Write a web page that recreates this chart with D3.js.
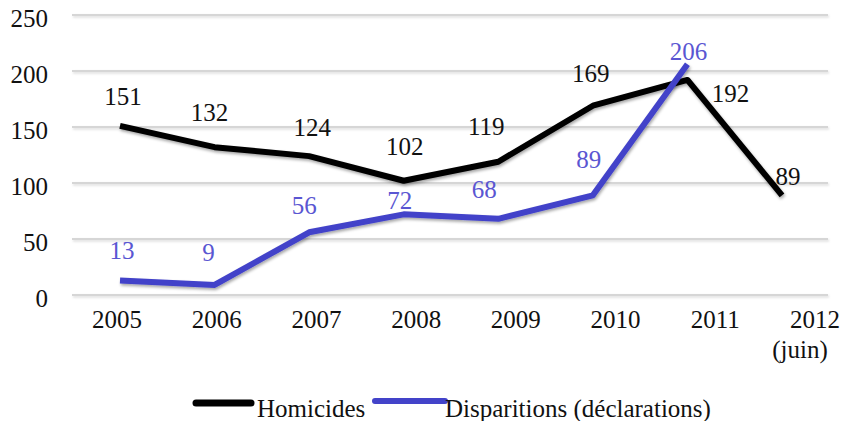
<!DOCTYPE html>
<html>
<head>
<meta charset="utf-8">
<script src="https://cdn.jsdelivr.net/npm/d3@7"></script>
<style>
  body { margin: 0; background: #fff; }
  svg { font-family: "Liberation Serif", "Times New Roman", serif; }
</style>
</head>
<body>
<svg id="chart" width="845" height="421"></svg>
<script>
const years = ["2005", "2006", "2007", "2008", "2009", "2010", "2011", "2012"];
const homicides = [151, 132, 124, 102, 119, 169, 192, 89];
const disparitions = [13, 9, 56, 72, 68, 89, 206];
const yTicks = [0, 50, 100, 150, 200, 250];
const seriesNames = ["Homicides", "Disparitions (déclarations)"];
const colors = ["#000000", "#4343c9"];
const labelColors = ["#111111", "#5a56d2"];

// label centre offsets (dx, dy) from the point
const homLabelOff = [[3, -29], [-5, -35], [3, -29], [1, -34], [-12, -35], [-2, -32], [43, 14], [6, -19]];
const disLabelOff = [[2, -30], [-6, -32], [-5, -27], [-4, -14], [-14, -29], [-4, -36], [1, -13]];

const FS = 25;

const svg = d3.select("#chart");

const defs = svg.append("defs");
// user space filters so flat lines are not clipped away
const f = defs.append("filter").attr("id", "shadow")
  .attr("filterUnits", "userSpaceOnUse")
  .attr("x", 0).attr("y", 0).attr("width", 845).attr("height", 421);
f.append("feDropShadow").attr("dx", 1).attr("dy", 2).attr("stdDeviation", 1.4)
  .attr("flood-color", "#000").attr("flood-opacity", 0.35);
const g = defs.append("filter").attr("id", "gridShadow")
  .attr("filterUnits", "userSpaceOnUse")
  .attr("x", 0).attr("y", 0).attr("width", 845).attr("height", 421);
g.append("feDropShadow").attr("dx", 1).attr("dy", 1.5).attr("stdDeviation", 1)
  .attr("flood-color", "#000").attr("flood-opacity", 0.15);

const y = d3.scaleLinear().domain([0, 250]).range([295, 15]);
// the data points sit on a slightly narrower spread than the category labels
const xLine = d3.scalePoint().domain(years).range([120, 782]);
const xAxis = d3.scalePoint().domain(years).range([117, 815]);

// gridlines
svg.append("g")
  .attr("filter", "url(#gridShadow)")
  .selectAll("line")
  .data(yTicks)
  .join("line")
  .attr("x1", 72)
  .attr("x2", 828)
  .attr("y1", d => y(d))
  .attr("y2", d => y(d))
  .attr("stroke", "#d6d6d6")
  .attr("stroke-width", 2);

// y tick labels
svg.append("g")
  .selectAll("text")
  .data(yTicks)
  .join("text")
  .attr("x", 48)
  .attr("y", d => y(d) + 12)
  .attr("text-anchor", "end")
  .attr("font-size", FS)
  .attr("fill", "#111")
  .text(d => d);

// x labels
svg.append("g")
  .selectAll("text")
  .data(years)
  .join("text")
  .attr("x", d => xAxis(d))
  .attr("y", 328)
  .attr("text-anchor", "middle")
  .attr("font-size", FS)
  .attr("fill", "#111")
  .text(d => d);

svg.append("text")
  .attr("x", xAxis("2012") - 15)
  .attr("y", 358)
  .attr("text-anchor", "middle")
  .attr("font-size", FS)
  .attr("fill", "#111")
  .text("(juin)");

const line = d3.line()
  .x((d, i) => xLine(years[i]))
  .y(d => y(d));

const series = [
  { name: seriesNames[0], values: homicides, color: colors[0], labelColor: labelColors[0], off: homLabelOff },
  { name: seriesNames[1], values: disparitions, color: colors[1], labelColor: labelColors[1], off: disLabelOff }
];

series.forEach(s => {
  svg.append("path")
    .datum(s.values)
    .attr("d", line)
    .attr("fill", "none")
    .attr("stroke", s.color)
    .attr("stroke-width", 6)
    .attr("stroke-linejoin", "round")
    .attr("filter", "url(#shadow)");
});

series.forEach(s => {
  svg.append("g")
    .selectAll("text")
    .data(s.values)
    .join("text")
    .attr("x", (d, i) => xLine(years[i]) + s.off[i][0])
    .attr("y", (d, i) => y(d) + s.off[i][1] + 8.5)
    .attr("text-anchor", "middle")
    .attr("font-size", FS)
    .attr("fill", s.labelColor)
    .text(d => d);
});

// legend
const legend = svg.append("g");
const legendItems = [
  { name: seriesNames[0], color: colors[0], x1: 196, x2: 251, ly: 403, w: 7, tx: 257 },
  { name: seriesNames[1], color: colors[1], x1: 375, x2: 445, ly: 401, w: 6, tx: 445 }
];
legendItems.forEach(d => {
  legend.append("line")
    .attr("x1", d.x1).attr("x2", d.x2)
    .attr("y1", d.ly).attr("y2", d.ly)
    .attr("stroke", d.color)
    .attr("stroke-width", d.w)
    .attr("stroke-linecap", "round");
  legend.append("text")
    .attr("x", d.tx)
    .attr("y", 417)
    .attr("font-size", FS)
    .attr("fill", "#111")
    .text(d.name);
});
</script>
</body>
</html>
